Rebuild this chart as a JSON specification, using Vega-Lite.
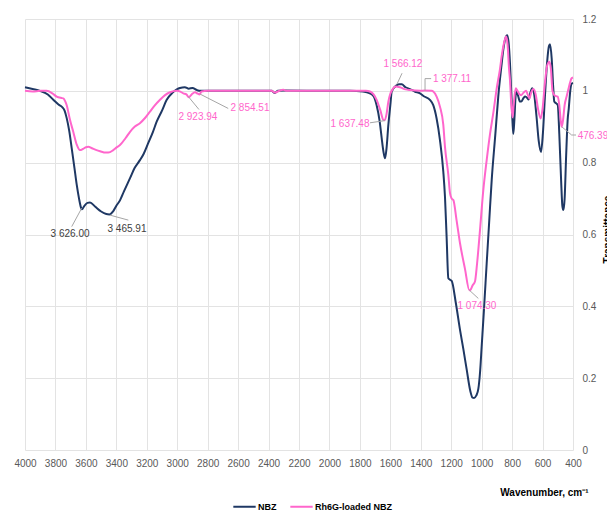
{
  "$schema": "https://vega.github.io/schema/vega-lite/v6.json",
  "width": 548,
  "height": 431,
  "autosize": {"type": "none"},
  "padding": {"left": 25, "top": 19, "right": 34, "bottom": 63},
  "background": "white",
  "config": {"view": {"stroke": null}, "font": "Liberation Sans"},
  "datasets": {
    "spectra": [
      {"w":4000,"T":1.010,"s":"NBZ"},{"w":3950,"T":1.005,"s":"NBZ"},{"w":3901,"T":1.000,"s":"NBZ"},{"w":3850,"T":0.990,"s":"NBZ"},{"w":3814,"T":0.975,"s":"NBZ"},{"w":3780,"T":0.962,"s":"NBZ"},{"w":3759,"T":0.956,"s":"NBZ"},{"w":3740,"T":0.945,"s":"NBZ"},{"w":3726,"T":0.924,"s":"NBZ"},{"w":3710,"T":0.890,"s":"NBZ"},{"w":3693,"T":0.840,"s":"NBZ"},{"w":3675,"T":0.785,"s":"NBZ"},{"w":3660,"T":0.738,"s":"NBZ"},{"w":3645,"T":0.700,"s":"NBZ"},{"w":3632,"T":0.675,"s":"NBZ"},{"w":3626,"T":0.670,"s":"NBZ"},{"w":3610,"T":0.680,"s":"NBZ"},{"w":3590,"T":0.688,"s":"NBZ"},{"w":3573,"T":0.689,"s":"NBZ"},{"w":3540,"T":0.678,"s":"NBZ"},{"w":3500,"T":0.664,"s":"NBZ"},{"w":3466,"T":0.657,"s":"NBZ"},{"w":3446,"T":0.656,"s":"NBZ"},{"w":3420,"T":0.665,"s":"NBZ"},{"w":3400,"T":0.680,"s":"NBZ"},{"w":3376,"T":0.695,"s":"NBZ"},{"w":3350,"T":0.720,"s":"NBZ"},{"w":3310,"T":0.757,"s":"NBZ"},{"w":3280,"T":0.785,"s":"NBZ"},{"w":3245,"T":0.807,"s":"NBZ"},{"w":3220,"T":0.825,"s":"NBZ"},{"w":3190,"T":0.855,"s":"NBZ"},{"w":3160,"T":0.885,"s":"NBZ"},{"w":3135,"T":0.914,"s":"NBZ"},{"w":3100,"T":0.945,"s":"NBZ"},{"w":3069,"T":0.975,"s":"NBZ"},{"w":3030,"T":0.995,"s":"NBZ"},{"w":3000,"T":1.005,"s":"NBZ"},{"w":2982,"T":1.008,"s":"NBZ"},{"w":2950,"T":1.010,"s":"NBZ"},{"w":2924,"T":1.006,"s":"NBZ"},{"w":2900,"T":1.008,"s":"NBZ"},{"w":2870,"T":1.002,"s":"NBZ"},{"w":2850,"T":1.000,"s":"NBZ"},{"w":2500,"T":1.000,"s":"NBZ"},{"w":2380,"T":1.000,"s":"NBZ"},{"w":2358,"T":0.994,"s":"NBZ"},{"w":2340,"T":1.000,"s":"NBZ"},{"w":2300,"T":1.001,"s":"NBZ"},{"w":2000,"T":1.000,"s":"NBZ"},{"w":1865,"T":1.000,"s":"NBZ"},{"w":1780,"T":0.998,"s":"NBZ"},{"w":1734,"T":0.993,"s":"NBZ"},{"w":1710,"T":0.985,"s":"NBZ"},{"w":1690,"T":0.960,"s":"NBZ"},{"w":1670,"T":0.915,"s":"NBZ"},{"w":1657,"T":0.869,"s":"NBZ"},{"w":1645,"T":0.830,"s":"NBZ"},{"w":1635,"T":0.812,"s":"NBZ"},{"w":1625,"T":0.840,"s":"NBZ"},{"w":1613,"T":0.905,"s":"NBZ"},{"w":1600,"T":0.960,"s":"NBZ"},{"w":1591,"T":0.998,"s":"NBZ"},{"w":1560,"T":1.015,"s":"NBZ"},{"w":1540,"T":1.018,"s":"NBZ"},{"w":1525,"T":1.018,"s":"NBZ"},{"w":1500,"T":1.010,"s":"NBZ"},{"w":1471,"T":1.005,"s":"NBZ"},{"w":1440,"T":0.998,"s":"NBZ"},{"w":1405,"T":0.993,"s":"NBZ"},{"w":1380,"T":0.985,"s":"NBZ"},{"w":1340,"T":0.975,"s":"NBZ"},{"w":1318,"T":0.960,"s":"NBZ"},{"w":1296,"T":0.923,"s":"NBZ"},{"w":1274,"T":0.863,"s":"NBZ"},{"w":1252,"T":0.775,"s":"NBZ"},{"w":1241,"T":0.705,"s":"NBZ"},{"w":1230,"T":0.590,"s":"NBZ"},{"w":1219,"T":0.478,"s":"NBZ"},{"w":1208,"T":0.474,"s":"NBZ"},{"w":1197,"T":0.471,"s":"NBZ"},{"w":1170,"T":0.410,"s":"NBZ"},{"w":1142,"T":0.334,"s":"NBZ"},{"w":1120,"T":0.280,"s":"NBZ"},{"w":1098,"T":0.223,"s":"NBZ"},{"w":1075,"T":0.165,"s":"NBZ"},{"w":1060,"T":0.146,"s":"NBZ"},{"w":1050,"T":0.145,"s":"NBZ"},{"w":1035,"T":0.152,"s":"NBZ"},{"w":1022,"T":0.170,"s":"NBZ"},{"w":1010,"T":0.220,"s":"NBZ"},{"w":1000,"T":0.288,"s":"NBZ"},{"w":985,"T":0.390,"s":"NBZ"},{"w":967,"T":0.520,"s":"NBZ"},{"w":950,"T":0.640,"s":"NBZ"},{"w":934,"T":0.752,"s":"NBZ"},{"w":910,"T":0.880,"s":"NBZ"},{"w":891,"T":0.984,"s":"NBZ"},{"w":870,"T":1.070,"s":"NBZ"},{"w":858,"T":1.114,"s":"NBZ"},{"w":845,"T":1.145,"s":"NBZ"},{"w":832,"T":1.155,"s":"NBZ"},{"w":822,"T":1.130,"s":"NBZ"},{"w":814,"T":1.077,"s":"NBZ"},{"w":805,"T":0.990,"s":"NBZ"},{"w":797,"T":0.910,"s":"NBZ"},{"w":792,"T":0.880,"s":"NBZ"},{"w":785,"T":0.920,"s":"NBZ"},{"w":778,"T":0.980,"s":"NBZ"},{"w":773,"T":1.002,"s":"NBZ"},{"w":760,"T":0.985,"s":"NBZ"},{"w":748,"T":0.970,"s":"NBZ"},{"w":740,"T":0.970,"s":"NBZ"},{"w":725,"T":0.980,"s":"NBZ"},{"w":714,"T":0.984,"s":"NBZ"},{"w":700,"T":0.980,"s":"NBZ"},{"w":692,"T":0.976,"s":"NBZ"},{"w":680,"T":0.995,"s":"NBZ"},{"w":668,"T":1.007,"s":"NBZ"},{"w":655,"T":0.990,"s":"NBZ"},{"w":640,"T":0.930,"s":"NBZ"},{"w":625,"T":0.860,"s":"NBZ"},{"w":610,"T":0.830,"s":"NBZ"},{"w":598,"T":0.880,"s":"NBZ"},{"w":585,"T":0.980,"s":"NBZ"},{"w":570,"T":1.080,"s":"NBZ"},{"w":558,"T":1.125,"s":"NBZ"},{"w":551,"T":1.130,"s":"NBZ"},{"w":540,"T":1.090,"s":"NBZ"},{"w":530,"T":1.010,"s":"NBZ"},{"w":523,"T":0.970,"s":"NBZ"},{"w":510,"T":0.965,"s":"NBZ"},{"w":500,"T":0.960,"s":"NBZ"},{"w":490,"T":0.880,"s":"NBZ"},{"w":478,"T":0.750,"s":"NBZ"},{"w":470,"T":0.680,"s":"NBZ"},{"w":463,"T":0.668,"s":"NBZ"},{"w":455,"T":0.700,"s":"NBZ"},{"w":445,"T":0.820,"s":"NBZ"},{"w":435,"T":0.920,"s":"NBZ"},{"w":428,"T":0.950,"s":"NBZ"},{"w":418,"T":1.000,"s":"NBZ"},{"w":409,"T":1.020,"s":"NBZ"},{"w":400,"T":1.022,"s":"NBZ"},
      {"w":4000,"T":1.000,"s":"Rh6G-loaded NBZ"},{"w":3950,"T":0.998,"s":"Rh6G-loaded NBZ"},{"w":3900,"T":1.000,"s":"Rh6G-loaded NBZ"},{"w":3858,"T":1.000,"s":"Rh6G-loaded NBZ"},{"w":3820,"T":0.993,"s":"Rh6G-loaded NBZ"},{"w":3792,"T":0.984,"s":"Rh6G-loaded NBZ"},{"w":3760,"T":0.980,"s":"Rh6G-loaded NBZ"},{"w":3748,"T":0.979,"s":"Rh6G-loaded NBZ"},{"w":3735,"T":0.970,"s":"Rh6G-loaded NBZ"},{"w":3726,"T":0.960,"s":"Rh6G-loaded NBZ"},{"w":3705,"T":0.920,"s":"Rh6G-loaded NBZ"},{"w":3683,"T":0.886,"s":"Rh6G-loaded NBZ"},{"w":3660,"T":0.850,"s":"Rh6G-loaded NBZ"},{"w":3639,"T":0.835,"s":"Rh6G-loaded NBZ"},{"w":3620,"T":0.838,"s":"Rh6G-loaded NBZ"},{"w":3600,"T":0.843,"s":"Rh6G-loaded NBZ"},{"w":3584,"T":0.844,"s":"Rh6G-loaded NBZ"},{"w":3560,"T":0.840,"s":"Rh6G-loaded NBZ"},{"w":3530,"T":0.835,"s":"Rh6G-loaded NBZ"},{"w":3507,"T":0.832,"s":"Rh6G-loaded NBZ"},{"w":3470,"T":0.828,"s":"Rh6G-loaded NBZ"},{"w":3453,"T":0.828,"s":"Rh6G-loaded NBZ"},{"w":3420,"T":0.835,"s":"Rh6G-loaded NBZ"},{"w":3400,"T":0.842,"s":"Rh6G-loaded NBZ"},{"w":3376,"T":0.849,"s":"Rh6G-loaded NBZ"},{"w":3340,"T":0.868,"s":"Rh6G-loaded NBZ"},{"w":3310,"T":0.886,"s":"Rh6G-loaded NBZ"},{"w":3280,"T":0.900,"s":"Rh6G-loaded NBZ"},{"w":3245,"T":0.910,"s":"Rh6G-loaded NBZ"},{"w":3210,"T":0.925,"s":"Rh6G-loaded NBZ"},{"w":3179,"T":0.942,"s":"Rh6G-loaded NBZ"},{"w":3150,"T":0.958,"s":"Rh6G-loaded NBZ"},{"w":3113,"T":0.975,"s":"Rh6G-loaded NBZ"},{"w":3080,"T":0.988,"s":"Rh6G-loaded NBZ"},{"w":3047,"T":0.996,"s":"Rh6G-loaded NBZ"},{"w":3003,"T":1.000,"s":"Rh6G-loaded NBZ"},{"w":2980,"T":0.998,"s":"Rh6G-loaded NBZ"},{"w":2960,"T":0.993,"s":"Rh6G-loaded NBZ"},{"w":2940,"T":0.990,"s":"Rh6G-loaded NBZ"},{"w":2924,"T":0.982,"s":"Rh6G-loaded NBZ"},{"w":2905,"T":0.990,"s":"Rh6G-loaded NBZ"},{"w":2883,"T":0.996,"s":"Rh6G-loaded NBZ"},{"w":2865,"T":0.992,"s":"Rh6G-loaded NBZ"},{"w":2854,"T":0.990,"s":"Rh6G-loaded NBZ"},{"w":2840,"T":0.998,"s":"Rh6G-loaded NBZ"},{"w":2800,"T":1.000,"s":"Rh6G-loaded NBZ"},{"w":2380,"T":1.000,"s":"Rh6G-loaded NBZ"},{"w":2358,"T":0.995,"s":"Rh6G-loaded NBZ"},{"w":2340,"T":0.998,"s":"Rh6G-loaded NBZ"},{"w":2303,"T":1.003,"s":"Rh6G-loaded NBZ"},{"w":2280,"T":1.000,"s":"Rh6G-loaded NBZ"},{"w":1760,"T":1.000,"s":"Rh6G-loaded NBZ"},{"w":1734,"T":0.998,"s":"Rh6G-loaded NBZ"},{"w":1710,"T":0.990,"s":"Rh6G-loaded NBZ"},{"w":1690,"T":0.975,"s":"Rh6G-loaded NBZ"},{"w":1665,"T":0.945,"s":"Rh6G-loaded NBZ"},{"w":1646,"T":0.919,"s":"Rh6G-loaded NBZ"},{"w":1637,"T":0.918,"s":"Rh6G-loaded NBZ"},{"w":1625,"T":0.935,"s":"Rh6G-loaded NBZ"},{"w":1613,"T":0.970,"s":"Rh6G-loaded NBZ"},{"w":1600,"T":0.992,"s":"Rh6G-loaded NBZ"},{"w":1591,"T":1.000,"s":"Rh6G-loaded NBZ"},{"w":1566,"T":1.012,"s":"Rh6G-loaded NBZ"},{"w":1537,"T":1.010,"s":"Rh6G-loaded NBZ"},{"w":1500,"T":1.004,"s":"Rh6G-loaded NBZ"},{"w":1471,"T":1.002,"s":"Rh6G-loaded NBZ"},{"w":1400,"T":1.000,"s":"Rh6G-loaded NBZ"},{"w":1377,"T":1.001,"s":"Rh6G-loaded NBZ"},{"w":1329,"T":1.000,"s":"Rh6G-loaded NBZ"},{"w":1318,"T":0.998,"s":"Rh6G-loaded NBZ"},{"w":1296,"T":0.984,"s":"Rh6G-loaded NBZ"},{"w":1274,"T":0.956,"s":"Rh6G-loaded NBZ"},{"w":1252,"T":0.905,"s":"Rh6G-loaded NBZ"},{"w":1241,"T":0.844,"s":"Rh6G-loaded NBZ"},{"w":1219,"T":0.766,"s":"Rh6G-loaded NBZ"},{"w":1208,"T":0.715,"s":"Rh6G-loaded NBZ"},{"w":1197,"T":0.700,"s":"Rh6G-loaded NBZ"},{"w":1186,"T":0.696,"s":"Rh6G-loaded NBZ"},{"w":1165,"T":0.640,"s":"Rh6G-loaded NBZ"},{"w":1142,"T":0.575,"s":"Rh6G-loaded NBZ"},{"w":1110,"T":0.505,"s":"Rh6G-loaded NBZ"},{"w":1081,"T":0.445,"s":"Rh6G-loaded NBZ"},{"w":1074,"T":0.446,"s":"Rh6G-loaded NBZ"},{"w":1060,"T":0.458,"s":"Rh6G-loaded NBZ"},{"w":1044,"T":0.469,"s":"Rh6G-loaded NBZ"},{"w":1030,"T":0.520,"s":"Rh6G-loaded NBZ"},{"w":1011,"T":0.612,"s":"Rh6G-loaded NBZ"},{"w":990,"T":0.720,"s":"Rh6G-loaded NBZ"},{"w":967,"T":0.807,"s":"Rh6G-loaded NBZ"},{"w":945,"T":0.880,"s":"Rh6G-loaded NBZ"},{"w":924,"T":0.937,"s":"Rh6G-loaded NBZ"},{"w":900,"T":1.010,"s":"Rh6G-loaded NBZ"},{"w":880,"T":1.060,"s":"Rh6G-loaded NBZ"},{"w":869,"T":1.095,"s":"Rh6G-loaded NBZ"},{"w":852,"T":1.135,"s":"Rh6G-loaded NBZ"},{"w":840,"T":1.151,"s":"Rh6G-loaded NBZ"},{"w":830,"T":1.130,"s":"Rh6G-loaded NBZ"},{"w":820,"T":1.060,"s":"Rh6G-loaded NBZ"},{"w":814,"T":1.030,"s":"Rh6G-loaded NBZ"},{"w":805,"T":0.960,"s":"Rh6G-loaded NBZ"},{"w":797,"T":0.926,"s":"Rh6G-loaded NBZ"},{"w":790,"T":0.960,"s":"Rh6G-loaded NBZ"},{"w":776,"T":1.007,"s":"Rh6G-loaded NBZ"},{"w":765,"T":1.000,"s":"Rh6G-loaded NBZ"},{"w":750,"T":0.990,"s":"Rh6G-loaded NBZ"},{"w":740,"T":0.988,"s":"Rh6G-loaded NBZ"},{"w":725,"T":0.995,"s":"Rh6G-loaded NBZ"},{"w":708,"T":1.000,"s":"Rh6G-loaded NBZ"},{"w":698,"T":0.990,"s":"Rh6G-loaded NBZ"},{"w":686,"T":0.979,"s":"Rh6G-loaded NBZ"},{"w":675,"T":0.995,"s":"Rh6G-loaded NBZ"},{"w":660,"T":1.005,"s":"Rh6G-loaded NBZ"},{"w":645,"T":0.990,"s":"Rh6G-loaded NBZ"},{"w":630,"T":0.950,"s":"Rh6G-loaded NBZ"},{"w":612,"T":0.923,"s":"Rh6G-loaded NBZ"},{"w":600,"T":0.950,"s":"Rh6G-loaded NBZ"},{"w":585,"T":1.020,"s":"Rh6G-loaded NBZ"},{"w":570,"T":1.070,"s":"Rh6G-loaded NBZ"},{"w":556,"T":1.081,"s":"Rh6G-loaded NBZ"},{"w":545,"T":1.060,"s":"Rh6G-loaded NBZ"},{"w":535,"T":1.000,"s":"Rh6G-loaded NBZ"},{"w":523,"T":0.988,"s":"Rh6G-loaded NBZ"},{"w":510,"T":0.985,"s":"Rh6G-loaded NBZ"},{"w":500,"T":0.984,"s":"Rh6G-loaded NBZ"},{"w":490,"T":0.960,"s":"Rh6G-loaded NBZ"},{"w":480,"T":0.915,"s":"Rh6G-loaded NBZ"},{"w":474,"T":0.900,"s":"Rh6G-loaded NBZ"},{"w":465,"T":0.920,"s":"Rh6G-loaded NBZ"},{"w":455,"T":0.960,"s":"Rh6G-loaded NBZ"},{"w":442,"T":0.984,"s":"Rh6G-loaded NBZ"},{"w":430,"T":1.005,"s":"Rh6G-loaded NBZ"},{"w":418,"T":1.025,"s":"Rh6G-loaded NBZ"},{"w":409,"T":1.035,"s":"Rh6G-loaded NBZ"},{"w":400,"T":1.037,"s":"Rh6G-loaded NBZ"}
    ],
    "leaders": [
      {"w":3628,"T":0.673,"w2":3693,"T2":0.622},
      {"w":3442,"T":0.654,"w2":3321,"T2":0.640},
      {"w":2927,"T":0.984,"w2":2857,"T2":0.948},
      {"w":2850,"T":0.991,"w2":2665,"T2":0.951},
      {"w":1637,"T":0.917,"w2":1734,"T2":0.911},
      {"w":1556,"T":1.019,"w2":1523,"T2":1.049},
      {"w":1372,"T":1.000,"w2":1372,"T2":1.034},
      {"w":1372,"T":1.034,"w2":1332,"T2":1.034},
      {"w":1081,"T":0.445,"w2":1022,"T2":0.422},
      {"w":474,"T":0.900,"w2":409,"T2":0.877},
      {"w":409,"T":0.877,"w2":380,"T2":0.877}
    ],
    "notes": [
      {"w":3704,"T":0.601,"label":"3 626.00","s":"NBZ"},
      {"w":3330,"T":0.615,"label":"3 465.91","s":"NBZ"},
      {"w":2864,"T":0.927,"label":"2 923.94","s":"Rh6G-loaded NBZ"},
      {"w":2522,"T":0.951,"label":"2 854.51","s":"Rh6G-loaded NBZ"},
      {"w":1865,"T":0.908,"label":"1 637.48","s":"Rh6G-loaded NBZ"},
      {"w":1517,"T":1.074,"label":"1 566.12","s":"Rh6G-loaded NBZ"},
      {"w":1195,"T":1.033,"label":"1 377.11","s":"Rh6G-loaded NBZ"},
      {"w":1031,"T":0.401,"label":"1 074.30","s":"Rh6G-loaded NBZ"},
      {"w":269,"T":0.874,"label":"476.39","s":"Rh6G-loaded NBZ"}
    ]
  },
  "encoding": {
    "x": {
      "field": "w", "type": "quantitative",
      "scale": {"domain": [400, 4000], "reverse": true, "nice": false, "zero": false},
      "axis": {
        "values": [400,600,800,1000,1200,1400,1600,1800,2000,2200,2400,2600,2800,3000,3200,3400,3600,3800,4000],
        "format": "d", "grid": true, "gridColor": "#E3E3E3", "ticks": false, "domain": false,
        "labelFontSize": 10, "labelColor": "#595959", "labelPadding": 8, "labelFlush": false, "labelOverlap": false,
        "title": "Wavenumber, cm⁻¹", "titleFontSize": 10, "titleFontWeight": "bold", "titleColor": "#000000",
        "titleAnchor": "end", "titleAlign": "right", "titleX": 563, "titleY": 42, "titleBaseline": "middle"
      }
    },
    "y": {
      "field": "T", "type": "quantitative",
      "scale": {"domain": [0, 1.2], "nice": false},
      "axis": {
        "orient": "right", "values": [0,0.2,0.4,0.6,0.8,1,1.2], "format": "~g",
        "grid": true, "gridColor": "#E3E3E3", "ticks": false, "domain": false,
        "labelFontSize": 10, "labelColor": "#595959", "labelPadding": 9,
        "title": "Transmittance", "titleFontSize": 10, "titleFontWeight": "bold", "titleColor": "#000000",
        "titleAngle": 270, "titleX": 29, "titleY": 210, "titleAlign": "center", "titleBaseline": "top"
      }
    }
  },
  "layer": [
    {
      "data": {"name": "spectra"},
      "mark": {"type": "line", "strokeWidth": 2, "interpolate": "monotone"},
      "encoding": {
        "color": {
          "field": "s", "type": "nominal",
          "scale": {"domain": ["NBZ", "Rh6G-loaded NBZ"], "range": ["#1F3864", "#FF66CC"]},
          "legend": {
            "orient": "none", "legendX": 207, "legendY": 475, "direction": "horizontal", "title": null,
            "symbolType": "stroke", "symbolStrokeWidth": 2, "symbolSize": 500,
            "labelFontSize": 9, "labelFontWeight": "bold", "labelColor": "#000000", "labelOffset": 1,
            "columnPadding": 9
          }
        }
      }
    },
    {
      "data": {"name": "leaders"},
      "mark": {"type": "rule", "color": "#A6A6A6", "strokeWidth": 1},
      "encoding": {
        "x2": {"field": "w2"},
        "y2": {"field": "T2"}
      }
    },
    {
      "data": {"name": "notes"},
      "mark": {"type": "text", "fontSize": 10, "align": "center", "baseline": "middle"},
      "encoding": {
        "text": {"field": "label"},
        "color": {"condition": {"test": "datum.s === 'NBZ'", "value": "#404040"}, "value": "#FF66CC"}
      }
    }
  ]
}
